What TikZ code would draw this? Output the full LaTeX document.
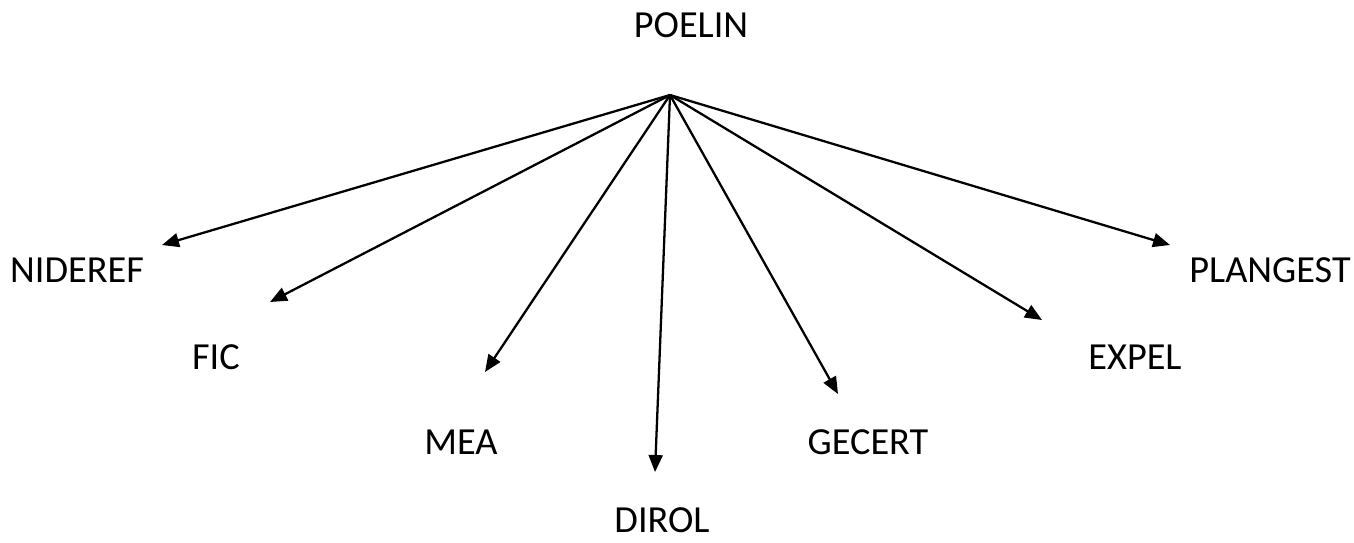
\documentclass[tikz,border=0pt]{standalone}
\usepackage{fontspec}
\setmainfont{Carlito}
\usetikzlibrary{
    arrows.meta,
    positioning
}

\begin{document}
\begin{tikzpicture}[x=0.02cm, y=-0.02cm,
    every node/.style={font=\fontsize{21.8}{26}\selectfont, inner sep=0pt},
    branch/.style={line width=1.3pt, -{Triangle[length=0.34cm, width=0.28cm]}}]
                                \useasboundingbox (0, 0) rectangle (1354, 542);
                                \node (poelin) at (691, 25) {POELIN};
                                \coordinate (hub) at (670, 95);
                                \node (nideref) at (77, 270) {NIDEREF};
                                \node (fic) at (216, 357) {FIC};
                                \node (mea) at (461, 442) {MEA};
                                \node (dirol) at (662, 520) {DIROL};
                                \node (gecert) at (868, 442) {GECERT};
                                \node (expel) at (1135, 357) {EXPEL};
                                \node (plangest) at (1270, 270) {PLANGEST};
                                \coordinate (tnideref) at (162, 245);
                                \coordinate (tfic) at (270, 302);
                                \coordinate (tmea) at (485, 372);
                                \coordinate (tdirol) at (655, 472);
                                \coordinate (tgecert) at (838, 394);
                                \coordinate (texpel) at (1042, 320);
                                \coordinate (tplangest) at (1170, 245);
                                \draw[branch] (hub) -- (tnideref);
                                \draw[branch] (hub) -- (tfic);
                                \draw[branch] (hub) -- (tmea);
                                \draw[branch] (hub) -- (tdirol);
                                \draw[branch] (hub) -- (tgecert);
                                \draw[branch] (hub) -- (texpel);
                                \draw[branch] (hub) -- (tplangest);
                            \end{tikzpicture}
\end{document}
